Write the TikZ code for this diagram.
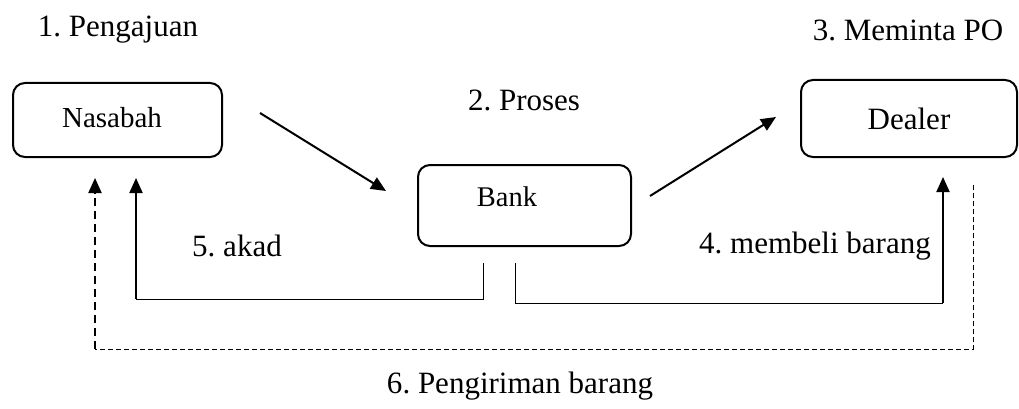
\documentclass[tikz,border=0pt]{standalone}
\usepackage{fontspec}
\setmainfont{Liberation Serif}
\usetikzlibrary{arrows.meta}
\frenchspacing
\begin{document}
\begin{tikzpicture}[x=1pt,y=-1pt,
  box/.style={draw,line width=2pt,rounded corners=12pt,inner sep=0pt},
  lbl/.style={inner sep=0pt,font=\fontsize{31}{37}\selectfont},
  arr/.style={line width=2pt,-{Triangle[length=15pt,width=13pt]}},
  thin/.style={line width=1pt},
  thickdash/.style={line width=2pt,dash pattern=on 8pt off 5pt,-{Triangle[length=15pt,width=13pt]}},
  thindash/.style={line width=1pt,dash pattern=on 5pt off 3pt}]
\useasboundingbox (0,0) rectangle (1019,409);
% boxes
\node[box,minimum width=209pt,minimum height=74pt] (nasabah) at (117.5,120) {};
\node[lbl,font=\fontsize{29}{35}\selectfont] (nasabahtext) at (112,118) {Nasabah};
\node[box,minimum width=213pt,minimum height=81pt] (bank) at (524.5,205.5) {};
\node[lbl,font=\fontsize{28.5}{34}\selectfont] (banktext) at (507,197) {Bank};
\node[box,minimum width=216pt,minimum height=77pt,font=\fontsize{31}{37}\selectfont] (dealer) at (909,118.5) {Dealer};
% labels
\node[lbl] (l1) at (118,30) {1. Pengajuan};
\node[lbl] (l3) at (908,30) {3. Meminta PO};
\node[lbl] (l2) at (524,100) {2. Proses};
\node[lbl] (l5) at (237,246) {5. akad};
\node[lbl] (l4) at (815,246) {4. membeli barang};
\node[lbl] (l6) at (520,386) {6. Pengiriman barang};
% coordinates
\coordinate (a1s) at (260,113);
\coordinate (a1e) at (386,191);
\coordinate (a2s) at (650,196);
\coordinate (a2e) at (776,117);
\coordinate (bl) at (483,263);
\coordinate (blc) at (483,299);
\coordinate (nlc) at (136,299);
\coordinate (nl) at (136,178);
\coordinate (br) at (515,263);
\coordinate (brc) at (515,303);
\coordinate (drc) at (943,303);
\coordinate (dr) at (943,177);
\coordinate (ds) at (973,185);
\coordinate (dsc) at (973,349);
\coordinate (nsc) at (95,349);
\coordinate (ns) at (95,178);
% connectors
\draw[arr] (a1s) -- (a1e);
\draw[arr] (a2s) -- (a2e);
\draw[thin] (bl) -- (blc) -- (nlc);
\draw[arr] (nlc) -- (nl);
\draw[thin] (br) -- (brc) -- (drc);
\draw[arr] (drc) -- (dr);
\draw[thindash] (ds) -- (dsc) -- (nsc);
\draw[thickdash] (nsc) -- (ns);
\end{tikzpicture}
\end{document}
